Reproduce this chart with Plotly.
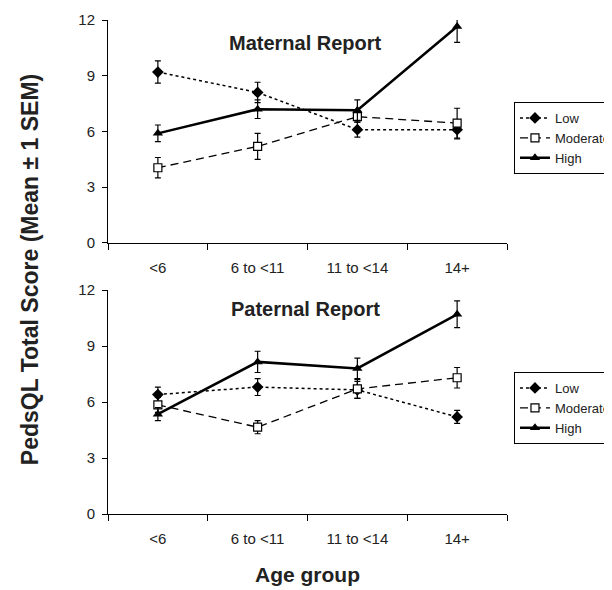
import plotly.graph_objects as go
from plotly.subplots import make_subplots

age_groups = ["<6", "6 to <11", "11 to <14", "14+"]
series_names = ["Low", "Moderate", "High"]

maternal_low = [9.2, 8.1, 6.1, 6.1]
maternal_low_sem = [0.6, 0.55, 0.4, 0.5]
maternal_moderate = [4.05, 5.2, 6.8, 6.45]
maternal_moderate_sem = [0.55, 0.7, 0.3, 0.8]
maternal_high = [5.9, 7.2, 7.15, 11.65]
maternal_high_sem = [0.45, 0.5, 0.55, 0.85]

paternal_low = [6.4, 6.8, 6.65, 5.2]
paternal_low_sem = [0.4, 0.45, 0.45, 0.35]
paternal_moderate = [5.85, 4.65, 6.7, 7.3]
paternal_moderate_sem = [0.4, 0.35, 0.5, 0.55]
paternal_high = [5.35, 8.15, 7.8, 10.7]
paternal_high_sem = [0.35, 0.57, 0.55, 0.72]

y_ticks = [0, 3, 6, 9, 12]

FONT = "Liberation Sans, Arial, sans-serif"

styles = {
    "Low": dict(line=dict(color="black", width=1.5, dash="dot"),
                marker=dict(symbol="diamond", size=9, color="black")),
    "Moderate": dict(line=dict(color="black", width=1.3, dash="8px,5px"),
                     marker=dict(symbol="square", size=8, color="white",
                                 line=dict(color="black", width=1.2))),
    "High": dict(line=dict(color="black", width=2.5),
                 marker=dict(symbol="triangle-up", size=9, color="black")),
}

panels = [
    ("legend", [maternal_low, maternal_moderate, maternal_high],
     [maternal_low_sem, maternal_moderate_sem, maternal_high_sem]),
    ("legend2", [paternal_low, paternal_moderate, paternal_high],
     [paternal_low_sem, paternal_moderate_sem, paternal_high_sem]),
]

fig = make_subplots(rows=2, cols=1, vertical_spacing=0.0952)

for row, (leg, vals, sems) in enumerate(panels, start=1):
    for name, v, s in zip(series_names, vals, sems):
        st = styles[name]
        fig.add_trace(go.Scatter(
            x=age_groups, y=v, name=name, mode="lines+markers",
            line=st["line"], marker=st["marker"],
            error_y=dict(type="data", array=s, visible=True, color="black",
                         thickness=1.2, width=3),
            legend=leg, showlegend=True,
        ), row=row, col=1)

axis_common = dict(showline=True, linecolor="black", linewidth=1,
                   showgrid=False, zeroline=False, ticks="outside",
                   tickcolor="black",
                   tickfont=dict(family=FONT, size=15, color="#222"))

for r in (1, 2):
    fig.update_xaxes(type="category", categoryorder="array",
                     categoryarray=age_groups, range=[-0.5, 3.5],
                     tickson="boundaries", ticklen=6, ticklabelstandoff=11,
                     row=r, col=1, **axis_common)
    fig.update_yaxes(range=[0, 12], tickvals=y_ticks, ticklen=5,
                     ticklabelstandoff=4, row=r, col=1, **axis_common)

fig.update_layout(
    yaxis=dict(domain=[0.5486, 1.0]),
    yaxis2=dict(domain=[0.0, 0.4534]),
    width=604, height=582,
    margin=dict(l=100, r=105, t=12, b=76, autoexpand=False),
    plot_bgcolor="white", paper_bgcolor="white",
    font=dict(family=FONT, color="black"),
    legend=dict(x=1.0175, xanchor="left", y=0.834, yanchor="top",
                bordercolor="black", borderwidth=1, bgcolor="white",
                font=dict(family=FONT, size=13, color="#222"),
                itemwidth=30, tracegroupgap=0),
    legend2=dict(x=1.0175, xanchor="left", y=0.2874, yanchor="top",
                 bordercolor="black", borderwidth=1, bgcolor="white",
                 font=dict(family=FONT, size=13, color="#222"),
                 itemwidth=30, tracegroupgap=0),
    showlegend=True,
)

fig.add_annotation(text="<b>Maternal Report</b>", xref="x domain", yref="y domain",
                   x=0.494, y=0.899, xanchor="center", yanchor="middle", showarrow=False,
                   font=dict(family=FONT, size=20, color="#222"))
fig.add_annotation(text="<b>Paternal Report</b>", xref="x2 domain", yref="y2 domain",
                   x=0.494, y=0.915, xanchor="center", yanchor="middle", showarrow=False,
                   font=dict(family=FONT, size=20, color="#222"))
fig.add_annotation(text="<b>PedsQL Total Score (Mean ± 1 SEM)</b>", xref="paper", yref="paper",
                   x=-0.195, y=0.494, xanchor="center", yanchor="middle",
                   textangle=-90, showarrow=False,
                   font=dict(family=FONT, size=23, color="#222"))
fig.add_annotation(text="<b>Age group</b>", xref="paper", yref="paper",
                   x=0.5, y=-0.122, xanchor="center", yanchor="middle", showarrow=False,
                   font=dict(family=FONT, size=21, color="#222"))

fig.write_html("out.html")
